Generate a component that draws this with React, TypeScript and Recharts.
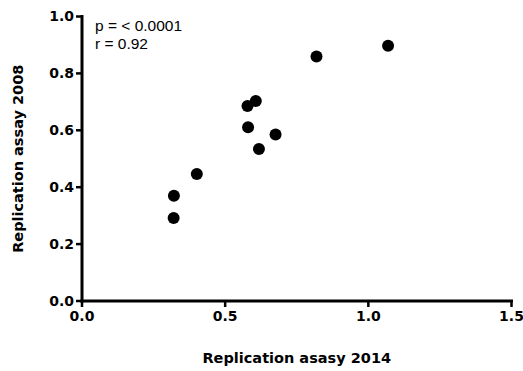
import React from "react";
import { ScatterChart, Scatter, XAxis, YAxis, Label } from "recharts";

const replication2014 = [1.069, 0.819, 0.607, 0.578, 0.58, 0.676, 0.618, 0.401, 0.321, 0.32];
const replication2008 = [0.897, 0.859, 0.703, 0.685, 0.611, 0.585, 0.534, 0.446, 0.37, 0.292];
const xTicks = [0, 0.5, 1.0, 1.5];
const yTicks = [0, 0.2, 0.4, 0.6, 0.8, 1.0];
const annotationLines = ["p = < 0.0001", "r = 0.92"];
const xTitle = "Replication asasy 2014";
const yTitle = "Replication assay 2008";

const data = replication2014.map((x, i) => ({ x, y: replication2008[i] }));

const tickFont = { fontFamily: "DejaVu Sans", fontWeight: 700, fontSize: 14, fill: "#000" };
const titleFont = { fontFamily: "DejaVu Sans", fontWeight: 700, fontSize: 14.5, fill: "#000" };

const Dot = (props: any) => <circle cx={props.cx} cy={props.cy} r={6} fill="#000" />;

export default function App() {
  return (
    <div style={{ position: "absolute", left: 0, top: 0, width: 523, height: 371, background: "#fff" }}>
      <ScatterChart width={523} height={371} margin={{ top: 16.5, right: 11.5, left: 0, bottom: 0 }}>
        <XAxis
          type="number"
          dataKey="x"
          domain={[0, 1.5]}
          ticks={xTicks}
          tickFormatter={(v: number) => v.toFixed(1)}
          height={70}
          tick={tickFont}
          tickSize={6}
          tickMargin={4}
          axisLine={{ stroke: "#000", strokeWidth: 3, strokeLinecap: "square" }}
          tickLine={{ stroke: "#000", strokeWidth: 2.5 }}
          interval={0}
        >
          <Label
            content={(p: any) => {
              const vb = p.viewBox;
              return (
                <text x={vb.x + vb.width / 2} y={363} textAnchor="middle" style={titleFont as any}>
                  {xTitle}
                </text>
              );
            }}
          />
        </XAxis>
        <YAxis
          type="number"
          dataKey="y"
          domain={[0, 1]}
          ticks={yTicks}
          tickFormatter={(v: number) => v.toFixed(1)}
          width={82}
          tick={tickFont}
          tickSize={6}
          tickMargin={2}
          axisLine={{ stroke: "#000", strokeWidth: 3, strokeLinecap: "square" }}
          tickLine={{ stroke: "#000", strokeWidth: 2.5 }}
          interval={0}
        >
          <Label
            content={(p: any) => {
              const vb = p.viewBox;
              const cy = vb.y + vb.height / 2;
              return (
                <text
                  x={23}
                  y={cy}
                  textAnchor="middle"
                  transform={`rotate(-90 23 ${cy})`}
                  style={titleFont as any}
                >
                  {yTitle}
                </text>
              );
            }}
          />
        </YAxis>
        <Scatter data={data} shape={Dot} isAnimationActive={false} />
      </ScatterChart>
      <div
        style={{
          position: "absolute",
          left: 95,
          top: 17,
          fontFamily: "Liberation Sans",
          fontSize: 15.5,
          lineHeight: "17.5px",
          color: "#000",
        }}
      >
        {annotationLines.map((t) => (
          <div key={t}>{t}</div>
        ))}
      </div>
    </div>
  );
}
